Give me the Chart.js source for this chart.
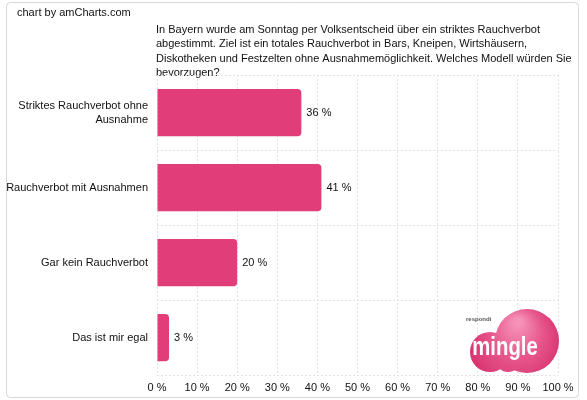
<!DOCTYPE html>
<html>
<head>
<meta charset="utf-8">
<script src="https://cdn.jsdelivr.net/npm/chart.js@4"></script>
<style>
html,body{margin:0;padding:0;background:#fff;}
#wrap{width:587px;height:400px;position:relative;}
</style>
</head>
<body>
<div id="wrap"><canvas id="c" width="587" height="400"></canvas></div>
<script>
const categories = [["Striktes Rauchverbot ohne","Ausnahme"],"Rauchverbot mit Ausnahmen","Gar kein Rauchverbot","Das ist mir egal"];
const values = [36, 41, 20, 3];
const xTickLabels = ["0 %","10 %","20 %","30 %","40 %","50 %","60 %","70 %","80 %","90 %","100 %"];
const titleLines = [
  "In Bayern wurde am Sonntag per Volksentscheid über ein striktes Rauchverbot",
  "abgestimmt. Ziel ist ein totales Rauchverbot in Bars, Kneipen, Wirtshäusern,",
  "Diskotheken und Festzelten ohne Ausnahmemöglichkeit. Welches Modell würden Sie",
  "bevorzugen?"
];
const credit = "chart by amCharts.com";
const FONT = "'Liberation Sans', Arial, sans-serif";

const decor = {
  id: 'decor',
  beforeDraw(chart) {
    const ctx = chart.ctx;
    ctx.save();
    ctx.fillStyle = '#fff';
    ctx.fillRect(0, 0, chart.width, chart.height);
    ctx.strokeStyle = '#d8d8d8';
    ctx.lineWidth = 1;
    ctx.beginPath();
    ctx.roundRect(6.5, 2.5, 572, 395, 4);
    ctx.stroke();
    ctx.fillStyle = '#111';
    ctx.font = '11px ' + FONT;
    ctx.textBaseline = 'middle';
    ctx.textAlign = 'left';
    ctx.fillText(credit, 17, 13);
    titleLines.forEach((l, i) => ctx.fillText(l, 156, 30 + i * 14.3));
    ctx.restore();
  },
  afterDatasetsDraw(chart) {
    const ctx = chart.ctx;
    ctx.save();
    ctx.fillStyle = '#111';
    ctx.font = '11px ' + FONT;
    ctx.textBaseline = 'middle';
    ctx.textAlign = 'left';
    chart.getDatasetMeta(0).data.forEach((bar, i) => {
      ctx.fillText(values[i] + ' %', bar.x + 5, bar.y);
    });
    // logo
    const g = ctx.createRadialGradient(518, 322, 4, 515, 345, 52);
    g.addColorStop(0, '#f590b6');
    g.addColorStop(0.45, '#e7578c');
    g.addColorStop(1, '#d42a68');
    ctx.fillStyle = g;
    ctx.beginPath();
    ctx.arc(527, 341, 32, 0, Math.PI * 2);
    ctx.fill();
    ctx.beginPath();
    ctx.arc(490, 352, 20, 0, Math.PI * 2);
    ctx.fill();
    ctx.beginPath();
    ctx.arc(508, 360, 12, 0, Math.PI * 2);
    ctx.fill();
    ctx.fillStyle = '#fff';
    ctx.font = 'bold 26px ' + FONT;
    ctx.textAlign = 'center';
    ctx.textBaseline = 'alphabetic';
    ctx.save();
    ctx.translate(505, 355);
    ctx.scale(0.78, 1);
    ctx.fillText('mingle', 0, 0);
    ctx.restore();
    ctx.fillStyle = '#555';
    ctx.font = 'bold 6px ' + FONT;
    ctx.textAlign = 'left';
    ctx.fillText('respondi', 466, 321);
    ctx.restore();
  }
};

new Chart(document.getElementById('c'), {
  type: 'bar',
  data: {
    labels: categories,
    datasets: [{
      data: values,
      backgroundColor: '#e13d78',
      borderRadius: 4,
      borderSkipped: 'start',
      barPercentage: 0.63,
      categoryPercentage: 1
    }]
  },
  options: {
    indexAxis: 'y',
    responsive: false,
    animation: false,
    devicePixelRatio: 1,
    layout: { padding: { top: 75, right: 29, left: 0, bottom: 0 } },
    plugins: { legend: { display: false }, tooltip: { enabled: false }, title: { display: false } },
    scales: {
      x: {
        min: 0, max: 100,
        ticks: {
          stepSize: 10,
          padding: 6,
          color: '#111',
          font: { family: FONT, size: 11 },
          maxRotation: 0,
          callback: (v, i) => xTickLabels[i]
        },
        grid: { color: '#e3e3e3', drawTicks: false },
        border: { display: false, dash: [2, 2] },
        afterFit(s) { s.height = 25; }
      },
      y: {
        ticks: {
          padding: 9,
          color: '#111',
          font: { family: FONT, size: 11, lineHeight: 1.27 }
        },
        grid: { color: '#e3e3e3', drawTicks: false, offset: true },
        border: { display: false, dash: [2, 2] },
        afterFit(s) { s.width = 157; }
      }
    }
  },
  plugins: [decor]
});
</script>
</body>
</html>
